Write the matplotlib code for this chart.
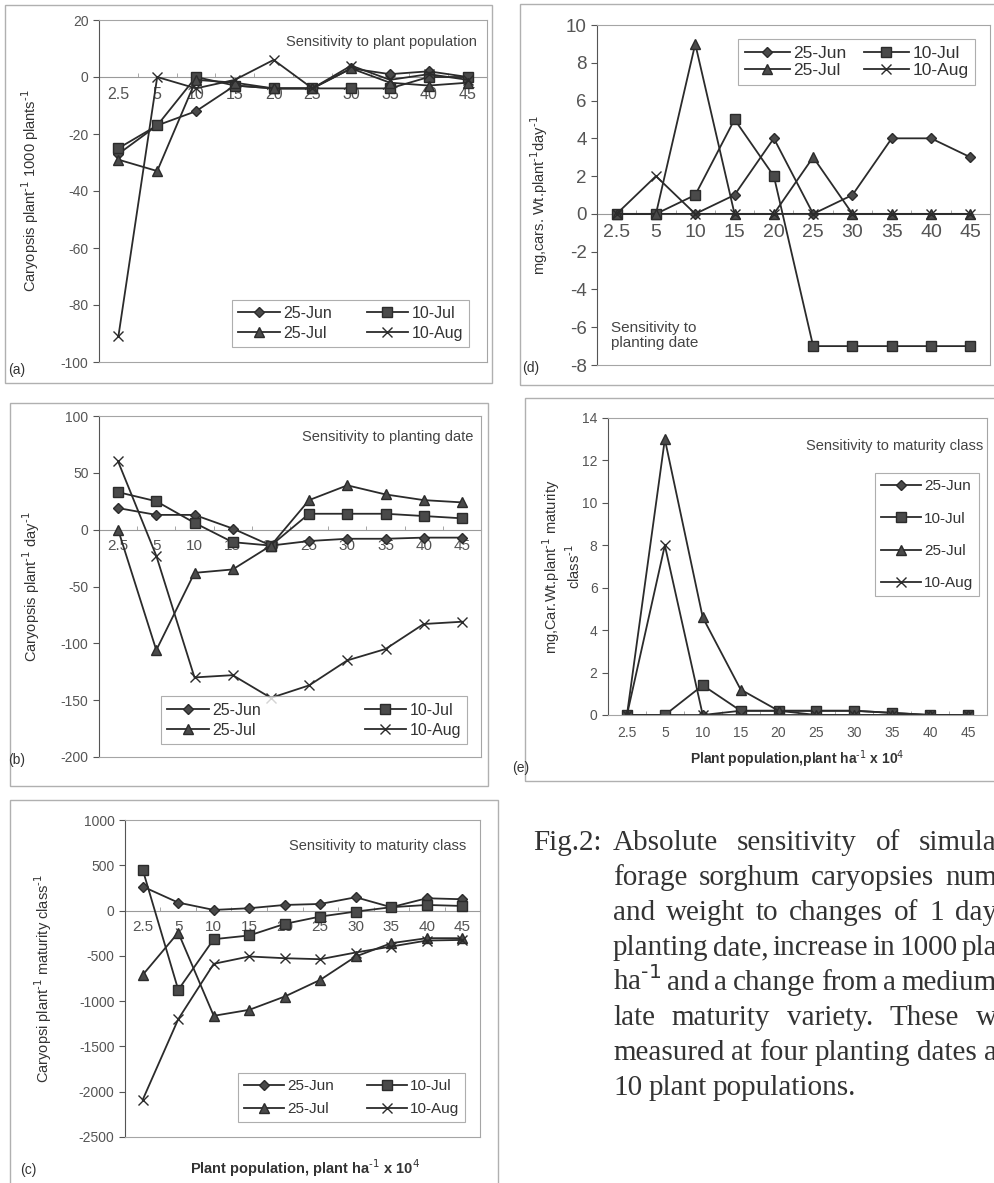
import numpy as np
import matplotlib
matplotlib.use("Agg")
import matplotlib.pyplot as plt
from matplotlib.patches import Rectangle

plt.rcParams["font.family"] = ["Liberation Sans", "DejaVu Sans"]
plt.rcParams["axes.unicode_minus"] = False

# ---- data ----
POP = ["2.5", "5", "10", "15", "20", "25", "30", "35", "40", "45"]
DATES = ["25-Jun", "10-Jul", "25-Jul", "10-Aug"]

# (a) caryopsis plant-1 per 1000 plants
a_jun25 = [-27, -17, -12, -3, -4, -4, 3, 1, 2, 0]
a_jul10 = [-25, -17, 0, -3, -4, -4, -4, -4, 0, 0]
a_jul25 = [-29, -33, -1, -2, -4, -4, 3, -2, -3, -2]
a_aug10 = [-91, 0, -4, -1, 6, -4, 4, -1, 1, -1]

# (b) caryopsis plant-1 day-1
b_jun25 = [19, 13, 13, 1, -14, -10, -8, -8, -7, -7]
b_jul10 = [33, 25, 6, -11, -14, 14, 14, 14, 12, 10]
b_jul25 = [0, -106, -38, -35, -14, 26, 39, 31, 26, 24]
b_aug10 = [60, -23, -130, -128, -148, -137, -115, -105, -83, -81]

# (c) caryopsis plant-1 maturity class-1
c_jun25 = [265, 88, 7, 26, 62, 73, 147, 37, 136, 125]
c_jul10 = [450, -875, -316, -275, -147, -66, -11, 37, 62, 51]
c_jul25 = [-710, -243, -1162, -1096, -949, -765, -507, -360, -305, -305]
c_aug10 = [-2088, -1199, -588, -507, -526, -537, -463, -397, -331, -324]

# (d) mg caryopsis wt plant-1 day-1
d_jun25 = [0, 0, 0, 1, 4, 0, 1, 4, 4, 3]
d_jul10 = [0, 0, 1, 5, 2, -7, -7, -7, -7, -7]
d_jul25 = [0, 0, 9, 0, 0, 3, 0, 0, 0, 0]
d_aug10 = [0, 2, 0, 0, 0, 0, 0, 0, 0, 0]

# (e) mg caryopsis wt plant-1 maturity class-1
e_jun25 = [0, 0, 0, 0.2, 0.2, 0.2, 0.2, 0.1, 0, 0]
e_jul10 = [0, 0, 1.4, 0.2, 0.2, 0.2, 0.2, 0.1, 0, 0]
e_jul25 = [0, 13, 4.6, 1.2, 0.2, 0, 0, 0, 0, 0]
e_aug10 = [0, 8, 0, 0, 0, 0, 0, 0, 0, 0]

CAPTION = [
    "Absolute sensitivity of simula",
    "forage sorghum caryopsies num",
    "and weight to changes of 1 day",
    "planting date, increase in 1000 pla",
    "ha$^{\\text{-}1}$ and a change from a medium",
    "late maturity variety. These w",
    "measured at four planting dates a",
    "10 plant populations.",
]

W, H = 995, 1183
INK = "#2b2b2b"
MARKERS = [("D", 5), ("s", 6.5), ("^", 6.5), ("x", 7.5)]

fig = plt.figure(figsize=(W / 100, H / 100), dpi=100)
fig.patch.set_facecolor("white")


def rect(l, t, r, b):
    return [l / W, 1 - b / H, (r - l) / W, (b - t) / H]


def frame(l, t, r, b):
    fig.patches.append(Rectangle((l / W, 1 - b / H), (r - l) / W, (b - t) / H,
                                 transform=fig.transFigure, fill=False,
                                 ec="#b0b0b0", lw=1.0))


def panel(box, series, ylim, ystep, ylabel, tick_fs=10, xtick_fs=11,
          zero_axis=True):
    ax = fig.add_axes(rect(*box))
    x = np.arange(len(POP))
    for (m, ms), vals, lab in zip(MARKERS, series, DATES):
        ax.plot(x, vals, color=INK, lw=1.3, marker=m, ms=ms,
                mfc="#4a4a4a", mec=INK, mew=1.0, label=lab)
    ax.set_xlim(-0.5, len(POP) - 0.5)
    ax.set_ylim(*ylim)
    ax.set_yticks(np.arange(ylim[0], ylim[1] + ystep / 2, ystep))
    ax.tick_params(axis="y", labelsize=tick_fs, colors="#555555",
                   length=4, width=0.8, direction="out")
    for s in ["top", "right", "bottom"]:
        ax.spines[s].set_color("#a5a5a5")
        ax.spines[s].set_linewidth(0.8)
    ax.spines["left"].set_color("#555555")
    ax.set_ylabel(ylabel, fontsize=10.5, color="#333333")

    if zero_axis:
        # category axis crosses the value axis at zero (Excel style)
        ax.tick_params(axis="x", which="both", length=0, labelbottom=False)
        pos = (0 - ylim[0]) / (ylim[1] - ylim[0])
        sec = ax.secondary_xaxis(pos)
        sec.set_alignment("bottom")
        sec.set_xticks(x, POP)
        sec.set_xticks(x[:-1] + 0.5, minor=True)
        sec.tick_params(axis="x", which="major", length=0, pad=7,
                        labelsize=xtick_fs, colors="#555555")
        sec.tick_params(axis="x", which="minor", length=3,
                        direction="in", color="#999999")
        sec.spines["bottom"].set_color("#9a9a9a")
    else:
        ax.set_xticks(x, POP)
        ax.set_xticks(x[:-1] + 0.5, minor=True)
        ax.tick_params(axis="x", which="major", length=0, pad=8,
                       labelsize=xtick_fs, colors="#555555")
        ax.tick_params(axis="x", which="minor", length=3, direction="in",
                       color="#999999")
    return ax


def legend(ax, loc, anchor, ncol=2, fs=11, colsp=2.0, lblsp=0.3):
    h, l = ax.get_legend_handles_labels()
    if ncol == 2:
        # row order: 25-Jun 10-Jul / 25-Jul 10-Aug
        order = [0, 2, 1, 3]
        h = [h[i] for i in order]
        l = [l[i] for i in order]
    lg = ax.legend(h, l, loc=loc, bbox_to_anchor=anchor, ncol=ncol, fontsize=fs,
                   frameon=True, fancybox=False, handlelength=2.6,
                   columnspacing=colsp, labelspacing=lblsp,
                   handletextpad=0.2, borderpad=0.4, labelcolor="#333333")
    lg.get_frame().set_edgecolor("#9a9a9a")
    lg.get_frame().set_linewidth(0.8)
    return lg


# ---- (a) sensitivity to plant population, number ----
frame(5, 5, 492, 383)
ax_a = panel((99, 20, 487, 362), [a_jun25, a_jul10, a_jul25, a_aug10],
             (-100, 20), 20, "Caryopsis plant$^{\\text{-}1}$ 1000 plants$^{\\text{-}1}$",
             xtick_fs=11.5)
ax_a.yaxis.set_label_coords(-0.15, 0.5)
legend(ax_a, "lower right", (0.975, 0.02), fs=11.5, colsp=2.2)
ax_a.text(0.975, 0.955, "Sensitivity to plant population", transform=ax_a.transAxes,
          ha="right", va="top", fontsize=10.5, color="#444444")

# ---- (d) sensitivity to planting date, weight ----
frame(520, 4, 1010, 385)
ax_d = panel((597, 25, 990, 365), [d_jun25, d_jul10, d_jul25, d_aug10],
             (-8, 10), 2, "mg,cars. Wt.plant$^{\\text{-}1}$day$^{\\text{-}1}$",
             tick_fs=13.5, xtick_fs=14)
ax_d.yaxis.set_label_coords(-0.12, 0.5)
legend(ax_d, "upper right", (0.985, 0.985), fs=12.5, colsp=1.0, lblsp=0.1)
ax_d.text(0.035, 0.045, "Sensitivity to\nplanting date", transform=ax_d.transAxes,
          ha="left", va="bottom", fontsize=11, color="#444444", linespacing=1.1)

# ---- (b) sensitivity to planting date, number ----
frame(10, 403, 488, 786)
ax_b = panel((99, 416, 481, 757), [b_jun25, b_jul10, b_jul25, b_aug10],
             (-200, 100), 50, "Caryopsis plant$^{\\text{-}1}$ day$^{\\text{-}1}$")
ax_b.yaxis.set_label_coords(-0.15, 0.5)
legend(ax_b, "lower right", (0.985, 0.015), fs=11.5, colsp=6.5)
ax_b.text(0.98, 0.96, "Sensitivity to planting date", transform=ax_b.transAxes,
          ha="right", va="top", fontsize=10.5, color="#444444")

# ---- (e) sensitivity to maturity class, weight ----
frame(525, 398, 1010, 781)
ax_e = panel((608, 418, 987, 715), [e_jun25, e_jul10, e_jul25, e_aug10],
             (0, 14), 2, "mg,Car.Wt.plant$^{\\text{-}1}$ maturity\nclass$^{\\text{-}1}$",
             zero_axis=False, xtick_fs=10)
ax_e.yaxis.set_label_coords(-0.065, 0.5)
legend(ax_e, "upper right", (1.0, 0.84), ncol=1, fs=11, lblsp=1.2)
ax_e.text(0.99, 0.93, "Sensitivity to maturity class", transform=ax_e.transAxes,
          ha="right", va="top", fontsize=10.5, color="#444444")
ax_e.set_xlabel("Plant population,plant ha$^{\\text{-}1}$ x 10$^{4}$",
                fontsize=10, fontweight="bold", color="#333333", labelpad=6)

# ---- (c) sensitivity to maturity class, number ----
frame(10, 800, 498, 1195)
ax_c = panel((125, 820, 480, 1137), [c_jun25, c_jul10, c_jul25, c_aug10],
             (-2500, 1000), 500, "Caryopsi plant$^{\\text{-}1}$ maturity class$^{\\text{-}1}$")
ax_c.yaxis.set_label_coords(-0.2, 0.5)
legend(ax_c, "lower right", (0.98, 0.022), fs=11, colsp=2.2, lblsp=0.6)
ax_c.text(0.96, 0.94, "Sensitivity to maturity class", transform=ax_c.transAxes,
          ha="right", va="top", fontsize=10.5, color="#444444")
fig.text(305 / W, 1 - 1168 / H, "Plant population, plant ha$^{\\text{-}1}$ x 10$^{4}$",
         ha="center", va="center", fontsize=10.5, fontweight="bold", color="#333333")

# panel letters
for lab, (px, py) in {"(a)": (8, 370), "(d)": (522, 368), "(b)": (8, 760),
                      "(e)": (512, 768), "(c)": (20, 1170)}.items():
    fig.text(px / W, 1 - py / H, lab, ha="left", va="center", fontsize=10,
             color="#333333")

# caption on the right, justified lines running to the right edge
cap_font = ["Liberation Serif", "DejaVu Serif"]
cap_kw = dict(ha="left", va="baseline", fontsize=21, family=cap_font,
              color="#333333")
renderer = fig.canvas.get_renderer()
fig.text(533 / W, 1 - 850 / H, "Fig.2:", **cap_kw)
for i, line in enumerate(CAPTION):
    y = 1 - (850 + 35 * i) / H
    words = line.split(" ")
    texts = [fig.text(0, y, w, **cap_kw) for w in words]
    widths = [t.get_window_extent(renderer).width for t in texts]
    if i < len(CAPTION) - 1:
        gap = (997 - 613 - sum(widths)) / (len(words) - 1)
    else:
        gap = 6
    xpos = 613
    for t, wd in zip(texts, widths):
        t.set_x(xpos / W)
        xpos += wd + gap

fig.savefig("out.png", dpi=100)
